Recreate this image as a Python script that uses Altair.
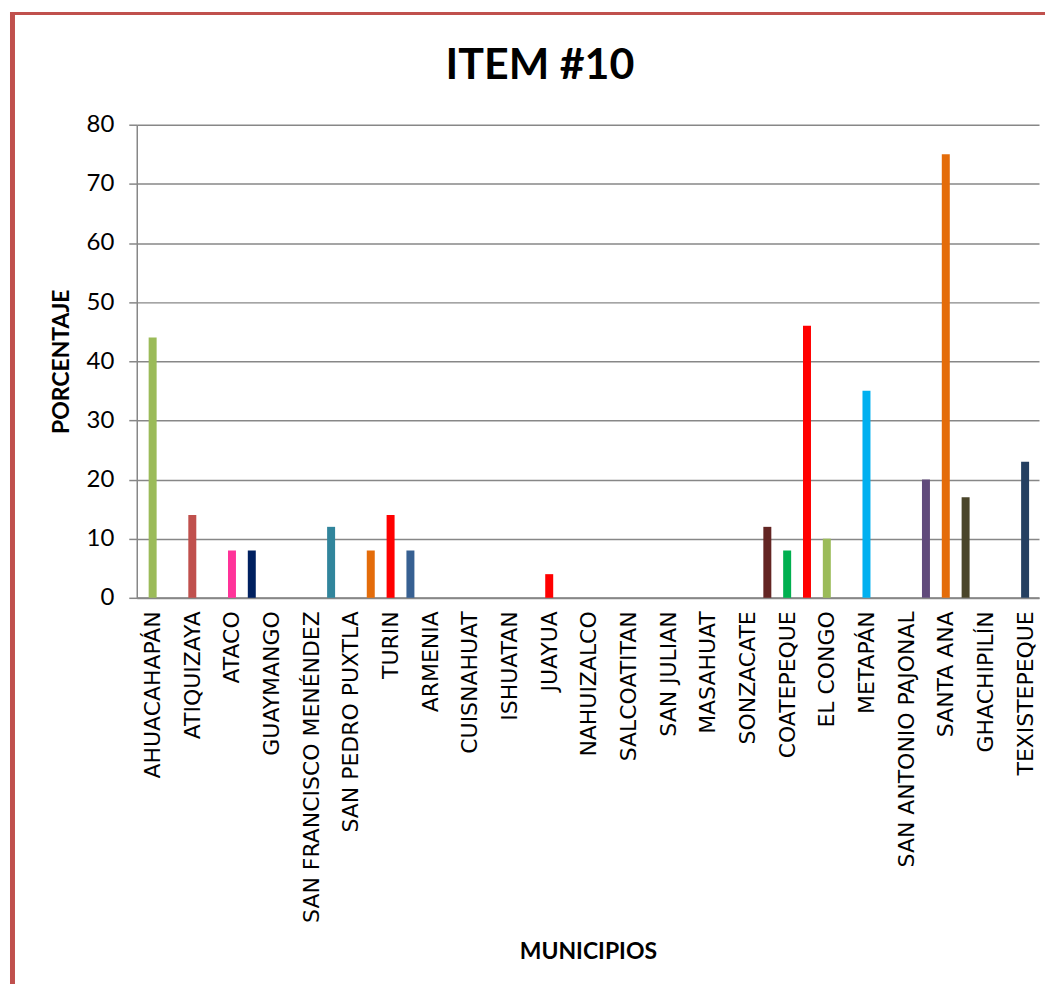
import altair as alt
import pandas as pd

# ---- data -------------------------------------------------------------
titulo = "ITEM #10"
municipios = [
    "AHUACAHAPÁN", "ATIQUIZAYA", "ATACO", "GUAYMANGO", "SAN FRANCISCO MENÉNDEZ",
    "SAN PEDRO PUXTLA", "TURIN", "ARMENIA", "CUISNAHUAT", "ISHUATAN", "JUAYUA",
    "NAHUIZALCO", "SALCOATITAN", "SAN JULIAN", "MASAHUAT", "SONZACATE",
    "COATEPEQUE", "EL CONGO", "METAPÁN", "SAN ANTONIO PAJONAL", "SANTA ANA",
    "GHACHIPILÍN", "TEXISTEPEQUE",
]

barra_municipio = [
    "AHUACAHAPÁN", "ATIQUIZAYA", "ATACO", "ATACO", "SAN FRANCISCO MENÉNDEZ",
    "SAN PEDRO PUXTLA", "TURIN", "TURIN", "JUAYUA", "SONZACATE", "COATEPEQUE",
    "COATEPEQUE", "EL CONGO", "METAPÁN", "SAN ANTONIO PAJONAL", "SANTA ANA",
    "SANTA ANA", "TEXISTEPEQUE",
]
# 0 = on the category, 1 = half a category to the right
barra_lado = [0, 0, 0, 1, 1, 1, 0, 1, 0, 1, 0, 1, 0, 0, 1, 0, 1, 0]
barra_valor = [44, 14, 8, 8, 12, 8, 14, 8, 4, 12, 8, 46, 10, 35, 20, 75, 17, 23]
barra_color = [
    "#9BBB59", "#C0504D", "#FF3399", "#002060", "#31859C", "#E46C0A", "#FF0000",
    "#376092", "#FF0000", "#632523", "#00B050", "#FF0000", "#9BBB59", "#00B0F0",
    "#604A7B", "#E46C0A", "#4A452A", "#254061",
]
y_ticks = [0, 10, 20, 30, 40, 50, 60, 70, 80]

df = pd.DataFrame({
    "municipio": barra_municipio,
    "lado": barra_lado,
    "valor": barra_valor,
    "color": barra_color,
})
df["pos"] = [2 * municipios.index(m) + l for m, l in zip(df["municipio"], df["lado"])]

label_expr = "[" + ",".join("'" + m + "'" for m in municipios) + "][datum.value / 2]"

GRAY = "#878787"

bars = alt.Chart(df).mark_bar(width=8).encode(
    x=alt.X(
        "pos:Q",
        scale=alt.Scale(domain=[-0.55, 44.45], nice=False, zero=False),
        axis=alt.Axis(
            values=list(range(0, 45, 2)),
            labelExpr=label_expr,
            labelAngle=270,
            labelAlign="right",
            labelBaseline="middle",
            labelFont="DejaVu Sans",
            labelFontSize=22,
            labelColor="#000000",
            labelPadding=13,
            labelOverlap=False,
            labelLimit=0,
            ticks=False,
            grid=False,
            domainColor=GRAY,
            domainWidth=2,
            title="MUNICIPIOS",
            titleFont="Lato",
            titleFontWeight="bold",
            titleFontSize=23,
            titleColor="#000000",
            titleBaseline="middle",
            titleY=354,
        ),
    ),
    y=alt.Y(
        "valor:Q",
        scale=alt.Scale(domain=[0, 80], nice=False),
        axis=alt.Axis(
            values=y_ticks,
            labelFont="Lato",
            labelFontSize=24,
            labelColor="#000000",
            labelPadding=15,
            tickSize=8,
            tickColor=GRAY,
            tickWidth=1.5,
            grid=True,
            gridColor=GRAY,
            gridWidth=1.5,
            domainColor=GRAY,
            domainWidth=1.5,
            title="PORCENTAJE",
            titleFont="Lato",
            titleFontWeight="bold",
            titleFontSize=23,
            titleColor="#000000",
            titlePadding=13,
        ),
    ),
    color=alt.Color("color:N", scale=None),
)

frame_df = pd.DataFrame({"titulo": [titulo]})
left_border = alt.Chart(frame_df).mark_rule(color="#C0504D", strokeWidth=5).encode(
    x=alt.value(-124.5), y=alt.value(-113), y2=alt.value(861)
)
top_border = alt.Chart(frame_df).mark_rule(color="#C0504D", strokeWidth=3).encode(
    x=alt.value(-127), x2=alt.value(910), y=alt.value(-111.5)
)
title_text = alt.Chart(frame_df).mark_text(
    font="Lato", fontSize=43, fontWeight="bold", color="#000000",
    align="center", baseline="alphabetic",
).encode(text="titulo:N", x=alt.value(404), y=alt.value(-46))

chart = alt.layer(bars, left_border, top_border, title_text).properties(
    width=904,
    height=474,
    padding={"left": 0, "top": 0, "right": 0, "bottom": 0},
    background="#FFFFFF",
).configure_view(stroke=None)

chart.save("out.html", embed_options={"renderer": "svg", "actions": False})
